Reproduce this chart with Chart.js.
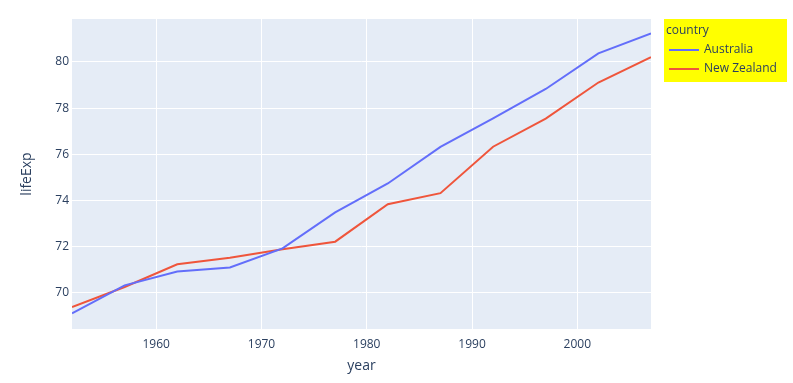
<!DOCTYPE html>
<html>
<head>
<meta charset="utf-8">
<script src="https://cdn.jsdelivr.net/npm/chart.js@4/dist/chart.umd.min.js"></script>
<style>
html,body{margin:0;padding:0;background:#fff;}
#wrap{width:793px;height:383px;position:relative;}
</style>
</head>
<body>
<div id="wrap"><canvas id="c" width="793" height="383"></canvas></div>
<script>
const years = [1952, 1957, 1962, 1967, 1972, 1977, 1982, 1987, 1992, 1997, 2002, 2007];
const australia = [69.12, 70.33, 70.93, 71.1, 71.93, 73.49, 74.74, 76.32, 77.56, 78.83, 80.37, 81.235];
const newZealand = [69.39, 70.26, 71.24, 71.52, 71.89, 72.22, 73.84, 74.32, 76.33, 77.55, 79.11, 80.204];
const xTicks = [1960, 1970, 1980, 1990, 2000];
const yTicks = [70, 72, 74, 76, 78, 80];
const seriesNames = ["Australia", "New Zealand"];
const legendTitle = "country";
const xTitle = "year";
const yTitle = "lifeExp";

const FONT = "'Open Sans', 'Noto Sans', sans-serif";
const TXT = "#2a3f5f";

const bgPlugin = {
  id: 'bg',
  beforeDraw(chart) {
    const {ctx, chartArea: a} = chart;
    ctx.save();
    ctx.fillStyle = '#E5ECF6';
    ctx.fillRect(a.left, a.top, a.right - a.left, a.bottom - a.top);
    ctx.restore();
  },
  afterDraw(chart) {
    const {ctx, chartArea: a} = chart;
    ctx.save();
    // axis titles
    ctx.fillStyle = TXT;
    ctx.font = "14px " + FONT;
    ctx.textAlign = 'center';
    ctx.textBaseline = 'middle';
    ctx.fillText(xTitle, (a.left + a.right) / 2, 366);
    ctx.translate(27, (a.top + a.bottom) / 2);
    ctx.rotate(-Math.PI / 2);
    ctx.fillText(yTitle, 0, 0);
    ctx.restore();
    // legend
    ctx.save();
    const lx = 664, ly = 19, lw = 123, lh = 63;
    ctx.fillStyle = '#ffff00';
    ctx.fillRect(lx, ly, lw, lh);
    ctx.font = "12px " + FONT;
    ctx.textAlign = 'left';
    ctx.textBaseline = 'middle';
    ctx.fillStyle = TXT;
    ctx.fillText(legendTitle, lx + 2, 31);
    chart.data.datasets.forEach((ds, i) => {
      const y = 50 + i * 19;
      ctx.strokeStyle = ds.borderColor;
      ctx.lineWidth = 2;
      ctx.beginPath();
      ctx.moveTo(lx + 5, y);
      ctx.lineTo(lx + 35, y);
      ctx.stroke();
      ctx.fillStyle = TXT;
      ctx.fillText(ds.label, lx + 40, y);
    });
    ctx.restore();
  }
};

new Chart(document.getElementById('c'), {
  type: 'line',
  data: {
    datasets: [
      {label: seriesNames[0], data: years.map((y, i) => ({x: y, y: australia[i]})), borderColor: '#636efa', backgroundColor: '#636efa', borderWidth: 2, pointRadius: 0, tension: 0},
      {label: seriesNames[1], data: years.map((y, i) => ({x: y, y: newZealand[i]})), borderColor: '#EF553B', backgroundColor: '#EF553B', borderWidth: 2, pointRadius: 0, tension: 0}
    ]
  },
  options: {
    responsive: false,
    animation: false,
    layout: {padding: {top: 19, right: 142, left: 0, bottom: 0}},
    plugins: {legend: {display: false}, tooltip: {enabled: false}},
    scales: {
      x: {
        type: 'linear', min: 1952, max: 2007,
        afterBuildTicks(s) { s.ticks = xTicks.map(v => ({value: v})); },
        afterFit(s) { s.height = 54; },
        grid: {color: '#ffffff', lineWidth: 1, drawTicks: false},
        border: {display: false},
        ticks: {color: TXT, font: {family: FONT, size: 12}, padding: 8, maxRotation: 0, callback: v => String(v)}
      },
      y: {
        type: 'linear', min: 68.44, max: 81.86,
        afterBuildTicks(s) { s.ticks = yTicks.map(v => ({value: v})); },
        afterFit(s) { s.width = 72; },
        grid: {color: '#ffffff', lineWidth: 1, drawTicks: false},
        border: {display: false},
        ticks: {color: TXT, font: {family: FONT, size: 12}, padding: 3, callback: v => String(v)}
      }
    }
  },
  plugins: [bgPlugin]
});
</script>
</body>
</html>
